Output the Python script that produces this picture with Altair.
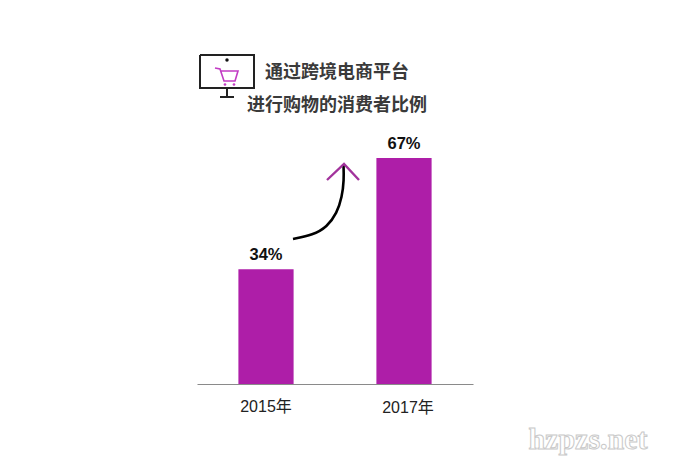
import altair as alt
import pandas as pd

# Chart values
years = ["2015年", "2017年"]
shares = [34, 67]
share_labels = ["34%", "67%"]

# Annotation geometry, in picture pixels
arrow_x = [293, 313, 327, 337, 342, 344, 343.5]
arrow_y = [239, 235, 227, 213, 197, 180, 165]
chevron_x = [327, 344, 359]
chevron_y = [180, 164, 180]
screen_x = [200, 254, 254, 200, 200]
screen_y = [55, 55, 88, 88, 55]
stand_x = [227, 227]
stand_y = [88, 97]
foot_x = [220, 234]
foot_y = [97, 97]
cart_x = [215, 220, 224, 235, 238, 221]
cart_y = [68, 69, 81, 81, 71, 71]
dot_x = [227]
dot_y = [60]
wheel_x = [225, 234]
wheel_y = [84.5, 84.5]
title_lines = ["通过跨境电商平台", "进行购物的消费者比例"]
title_x = [337, 337]
title_y = [73, 106]
mark_text = ["hzpzs.net"]
mark_x = [588]
mark_y = [440]

PLOT_W, PLOT_H = 276, 254
px_x = alt.X("x:Q", axis=None, scale=alt.Scale(domain=[197, 473], nice=False, zero=False))
px_y = alt.Y("y:Q", axis=None, scale=alt.Scale(domain=[384, 130], nice=False, zero=False))


def path(xs, ys, color, width, **kw):
    d = pd.DataFrame({"x": xs, "y": ys, "o": range(len(xs))})
    return alt.Chart(d).mark_line(color=color, strokeWidth=width, clip=False, **kw).encode(
        x=px_x, y=px_y, order="o:Q"
    )


bars_df = pd.DataFrame({"year": years, "share": shares, "label": share_labels})
x_band = alt.X(
    "year:N",
    title=None,
    sort=years,
    scale=alt.Scale(paddingInner=0.6, paddingOuter=0.3),
    axis=alt.Axis(
        domainColor="#8a8a8a",
        domainWidth=1.2,
        ticks=False,
        labelAngle=0,
        labelFont="Liberation Sans, Noto Sans CJK SC",
        labelFontSize=16,
        labelColor="#222222",
        labelPadding=alt.expr("datum.value == '2017年' ? 15 : 14"),
        labelOffset=alt.expr("datum.value == '2017年' ? 4 : 0"),
        grid=False,
    ),
)
y_val = alt.Y("share:Q", axis=None, scale=alt.Scale(domain=[0, 75.3], nice=False))

bars = alt.Chart(bars_df).mark_bar(color="#ae1ea8").encode(x=x_band, y=y_val)
values = alt.Chart(bars_df).mark_text(
    font="Liberation Sans", fontSize=16.5, fontWeight="bold", color="#111111", dy=-14
).encode(x=x_band, y=y_val, text="label:N")

titles = alt.Chart(pd.DataFrame({"x": title_x, "y": title_y, "t": title_lines})).mark_text(
    font="Noto Sans CJK SC", fontSize=18, fontWeight="bold", color="#3a3a3a", clip=False
).encode(x=px_x, y=px_y, text="t:N")

dot = alt.Chart(pd.DataFrame({"x": dot_x, "y": dot_y})).mark_circle(
    color="#111111", size=12, opacity=1
).encode(x=px_x, y=px_y)
wheels = alt.Chart(pd.DataFrame({"x": wheel_x, "y": wheel_y})).mark_circle(
    color="#c23cc4", size=7, opacity=1
).encode(x=px_x, y=px_y)

watermark = alt.Chart(pd.DataFrame({"x": mark_x, "y": mark_y, "t": mark_text})).mark_text(
    font="Liberation Serif", fontSize=30, fontWeight="bold",
    color="#ffffff", stroke="#c9c9c9", strokeWidth=1
).encode(x=px_x, y=px_y, text="t:N")

base = alt.layer(bars, values)
overlay = alt.layer(
    path(screen_x, screen_y, "#222222", 2),
    path(stand_x, stand_y, "#222222", 2),
    path(foot_x, foot_y, "#222222", 2),
    path(cart_x, cart_y, "#c23cc4", 1.6),
    dot,
    wheels,
    titles,
    path(arrow_x, arrow_y, "#000000", 2.6, interpolate="basis"),
    path(chevron_x, chevron_y, "#a2339c", 2.4),
    watermark,
)

chart = (
    alt.layer(base, overlay)
    .resolve_scale(x="independent", y="independent")
    .properties(
        width=PLOT_W,
        height=PLOT_H,
        background="#ffffff",
        autosize=alt.AutoSizeParams(type="none"),
        padding={"left": 189, "top": 122, "right": 195, "bottom": 76},
    )
    .configure_view(stroke=None)
)

chart.save("out.html", embed_options={"renderer": "svg", "actions": False})
